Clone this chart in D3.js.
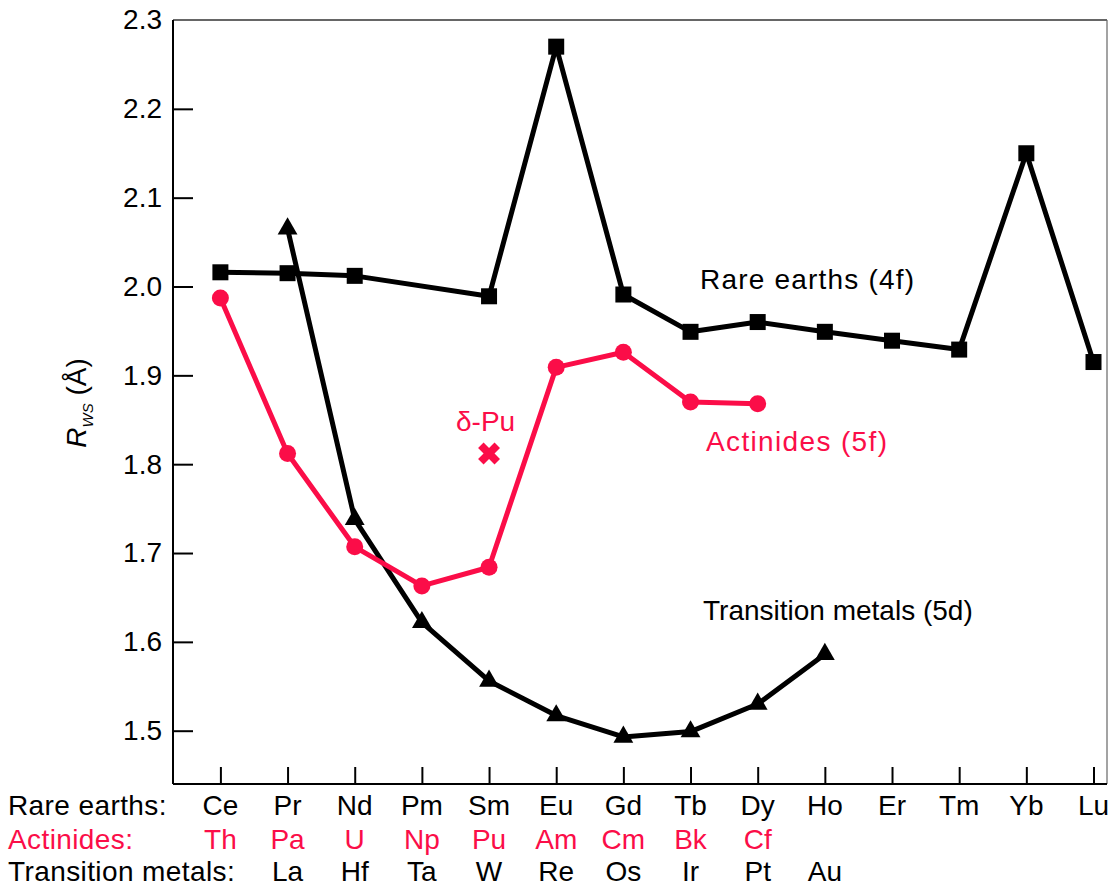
<!DOCTYPE html>
<html>
<head>
<meta charset="utf-8">
<script src="https://cdn.jsdelivr.net/npm/d3@7"></script>
<style>
  html, body { margin: 0; padding: 0; background: #ffffff; }
  svg { display: block; }
  text { font-family: "Liberation Sans", Arial, Helvetica, sans-serif; }
</style>
</head>
<body>
<svg id="chart" width="1109" height="887"></svg>
<script>
// Wigner–Seitz radius across the rare earth, actinide and 5d transition rows
const rareEarths = ["Ce","Pr","Nd","Pm","Sm","Eu","Gd","Tb","Dy","Ho","Er","Tm","Yb","Lu"];
const actinides = ["Th","Pa","U","Np","Pu","Am","Cm","Bk","Cf"];
const transitionMetals = ["La","Hf","Ta","W","Re","Os","Ir","Pt","Au"];

// R_WS in Å (null = no measurement shown)
const rareEarthRws = [2.016, 2.015, 2.012, null, 1.989, 2.270, 1.991, 1.949, 1.960, 1.949, 1.939, 1.929, 2.150, 1.915];
const actinideRws = [1.987, 1.812, 1.707, 1.663, 1.684, 1.909, 1.926, 1.870, 1.868];
const transitionRws = [2.065, 1.738, 1.622, 1.556, 1.517, 1.493, 1.499, 1.530, 1.586];
const transitionOffset = 1; // La sits under Pr

const deltaPu = { element: "Pu", rws: 1.812, label: "δ-Pu" };

const yTicks = [1.5, 1.6, 1.7, 1.8, 1.9, 2.0, 2.1, 2.2, 2.3];
const rowLabels = ["Rare earths:", "Actinides:", "Transition metals:"];

const RED = "#fb0d48";
const svg = d3.select("#chart");

const frame = { left: 173, right: 1107, top: 20, bottom: 784 };

const x = d3.scaleLinear().domain([0, 13]).range([220.4, 1093.5]);
const y = d3.scaleLinear().domain([1.44, 2.3]).range([frame.bottom, frame.top]);

// frame: thin top and right borders
svg.append("line")
  .attr("x1", frame.left).attr("x2", frame.right)
  .attr("y1", frame.top).attr("y2", frame.top)
  .attr("stroke", "#333").attr("stroke-width", 1.6);
svg.append("line")
  .attr("x1", frame.right).attr("x2", frame.right)
  .attr("y1", frame.top).attr("y2", frame.bottom)
  .attr("stroke", "#666").attr("stroke-width", 1.2);

// left axis, ticks pointing inward (the top value sits on the frame, no tick)
const yAxis = svg.append("g")
  .attr("transform", `translate(${frame.left},0)`)
  .call(d3.axisLeft(y).tickValues(yTicks).tickSize(-20).tickPadding(11)
    .tickFormat(d3.format(".1f")));
yAxis.select(".domain").attr("stroke", "#000").attr("stroke-width", 2)
  .attr("d", `M0,${frame.top}V${frame.bottom}`);
yAxis.selectAll(".tick line").attr("stroke", "#000").attr("stroke-width", 2)
  .filter(d => d === 2.3).remove();
yAxis.selectAll(".tick text")
  .attr("font-size", 28).attr("fill", "#000")
  .attr("font-family", "Liberation Sans, Arial, sans-serif");

// bottom axis, ticks pointing inward, labels drawn as rows below
const xAxis = svg.append("g")
  .attr("transform", `translate(0,${frame.bottom})`)
  .call(d3.axisBottom(x).tickValues(d3.range(rareEarths.length)).tickSize(-17).tickFormat(""));
xAxis.select(".domain").attr("stroke", "#000").attr("stroke-width", 2)
  .attr("d", `M${frame.left},0H${frame.right}`);
xAxis.selectAll(".tick line").attr("stroke", "#000").attr("stroke-width", 2);

// y-axis title: R_WS (Å)
const title = svg.append("text")
  .attr("transform", "translate(86,403) rotate(-90)")
  .attr("text-anchor", "middle")
  .attr("font-size", 28).attr("fill", "#000");
title.append("tspan").attr("font-style", "italic").text("R");
title.append("tspan").attr("font-size", 15).attr("font-style", "italic").attr("dy", 7).text("WS");
title.append("tspan").attr("dy", -7).text(" (Å)");

// element rows under the axis
const rowBaselines = [815, 849, 881];
const rowColors = ["#000", RED, "#000"];
const rows = [
  rareEarths.map((e, i) => ({ e, i })),
  actinides.map((e, i) => ({ e, i })),
  transitionMetals.map((e, i) => ({ e, i: i + transitionOffset }))
];
rows.forEach((row, r) => {
  svg.append("text")
    .attr("x", 8).attr("y", rowBaselines[r])
    .attr("font-size", 28).attr("fill", rowColors[r])
    .attr("letter-spacing", 0.4)
    .text(rowLabels[r]);
  svg.append("g").selectAll("text").data(row).join("text")
    .attr("x", d => x(d.i)).attr("y", rowBaselines[r])
    .attr("text-anchor", "middle")
    .attr("font-size", 28).attr("fill", rowColors[r])
    .text(d => d.e);
});

const line = d3.line().x(d => x(d.i)).y(d => y(d.v));

// rare earths (4f): squares
const rePts = rareEarthRws.map((v, i) => ({ i, v })).filter(d => d.v !== null);
svg.append("path").datum(rePts)
  .attr("d", line).attr("fill", "none")
  .attr("stroke", "#000").attr("stroke-width", 5).attr("stroke-linejoin", "round");
svg.append("g").selectAll("rect").data(rePts).join("rect")
  .attr("x", d => x(d.i) - 8).attr("y", d => y(d.v) - 8)
  .attr("width", 16).attr("height", 16).attr("fill", "#000");

// transition metals (5d): triangles
const tmPts = transitionRws.map((v, k) => ({ i: k + transitionOffset, v }));
svg.append("path").datum(tmPts)
  .attr("d", line).attr("fill", "none")
  .attr("stroke", "#000").attr("stroke-width", 5).attr("stroke-linejoin", "round");
svg.append("g").selectAll("path").data(tmPts).join("path")
  .attr("transform", d => `translate(${x(d.i)},${y(d.v)})`)
  .attr("d", d3.symbol(d3.symbolTriangle, 170))
  .attr("fill", "#000");

// actinides (5f): circles
const acPts = actinideRws.map((v, i) => ({ i, v }));
svg.append("path").datum(acPts)
  .attr("d", line).attr("fill", "none")
  .attr("stroke", RED).attr("stroke-width", 5).attr("stroke-linejoin", "round");
svg.append("g").selectAll("circle").data(acPts).join("circle")
  .attr("cx", d => x(d.i)).attr("cy", d => y(d.v)).attr("r", 8.5)
  .attr("fill", RED);

// delta-Pu point
const puIdx = actinides.indexOf(deltaPu.element);
svg.append("path")
  .attr("transform", `translate(${x(puIdx)},${y(deltaPu.rws)}) rotate(45)`)
  .attr("d", d3.symbol(d3.symbolCross, 300))
  .attr("fill", RED);
svg.append("text")
  .attr("x", x(puIdx) - 33).attr("y", y(deltaPu.rws) - 23)
  .attr("font-size", 28).attr("fill", RED)
  .text(deltaPu.label);

// series labels
svg.append("text").attr("x", 700).attr("y", 289)
  .attr("font-size", 28).attr("fill", "#000")
  .attr("textLength", 214).attr("lengthAdjust", "spacing")
  .text("Rare earths (4f)");
svg.append("text").attr("x", 706).attr("y", 451)
  .attr("font-size", 28).attr("fill", RED)
  .attr("textLength", 181).attr("lengthAdjust", "spacing")
  .text("Actinides (5f)");
svg.append("text").attr("x", 703).attr("y", 620)
  .attr("font-size", 28).attr("fill", "#000").text("Transition metals (5d)");
</script>
</body>
</html>
